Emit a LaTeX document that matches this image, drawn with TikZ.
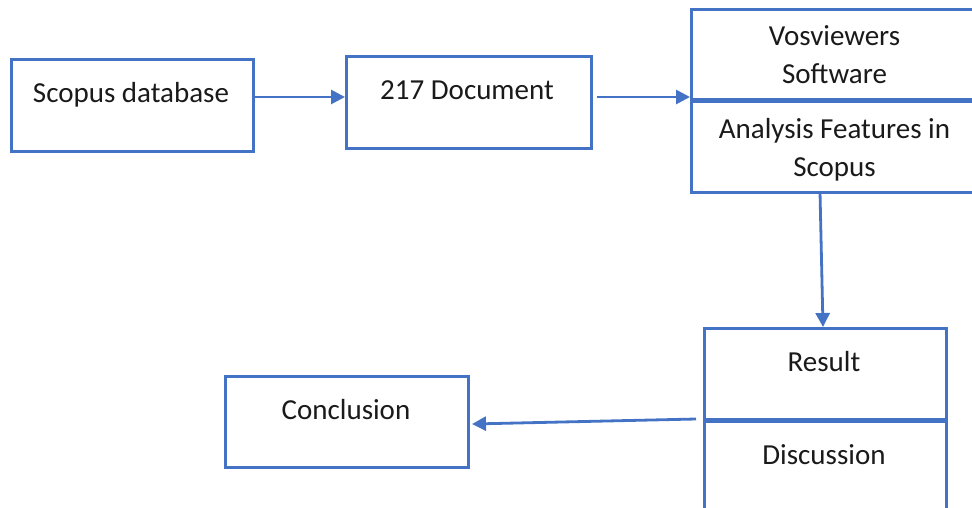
\documentclass[tikz,border=0pt]{standalone}
\usepackage{fontspec}
\setmainfont{Carlito}
\usetikzlibrary{arrows.meta}
\definecolor{lineblue}{HTML}{4472C4}
\definecolor{txtgray}{HTML}{1A1A1A}
\tikzset{
  box/.style={draw=lineblue, line width=2.8pt, fill=white, rectangle, inner sep=0pt, anchor=north west},
  txt/.style={font=\fontsize{29}{38}\selectfont, text=txtgray, align=center, anchor=base, inner sep=0pt},
  conn/.style={draw=lineblue, line width=2.8pt, -{Triangle[length=14pt,width=14pt]}},
  divider/.style={draw=lineblue, line width=4.5pt}
}
\begin{document}
\begin{tikzpicture}[x=1pt,y=-1pt]
\useasboundingbox (0,0) rectangle (972,507);
\clip (0,0) rectangle (972,507);
% boxes
\node[box, minimum width=242pt, minimum height=92pt] (scopus) at (10,58) {};
\node[box, minimum width=245pt, minimum height=92pt] (doc) at (345,55) {};
\node[box, minimum width=289pt, minimum height=90pt] (vos) at (690,8) {};
\node[box, minimum width=289pt, minimum height=93pt] (ana) at (690,98) {};
\node[box, minimum width=242pt, minimum height=91pt] (res) at (703,327) {};
\node[box, minimum width=242pt, minimum height=110pt] (dis) at (703,418) {};
\node[box, minimum width=243pt, minimum height=91pt] (concl) at (224,375) {};
\draw[divider] (vos.south west) -- (vos.south east);
\draw[divider] (res.south west) -- (res.south east);
% texts
\node[txt] (t1) at (131,102) {Scopus database};
\node[txt] (t2) at (467,99) {217 Document};
\node[txt] (t3) at (834.5,83) {Vosviewers\\Software};
\node[txt] (t4) at (834.5,176) {Analysis Features in\\Scopus};
\node[txt] (t5) at (824,371) {Result};
\node[txt] (t6) at (824,464) {Discussion};
\node[txt] (t7) at (346,419) {Conclusion};
% connectors
\coordinate (a1s) at (252,97);
\coordinate (a1e) at (345,97);
\coordinate (a2s) at (597,97);
\coordinate (a2e) at (690,97);
\coordinate (a3s) at (820,192);
\coordinate (a3e) at (823,327);
\coordinate (a4s) at (696,419);
\coordinate (a4e) at (472,424);
\draw[conn] (a1s) -- (a1e);
\draw[conn] (a2s) -- (a2e);
\draw[conn] (a3s) -- (a3e);
\draw[conn] (a4s) -- (a4e);
\end{tikzpicture}
\end{document}
